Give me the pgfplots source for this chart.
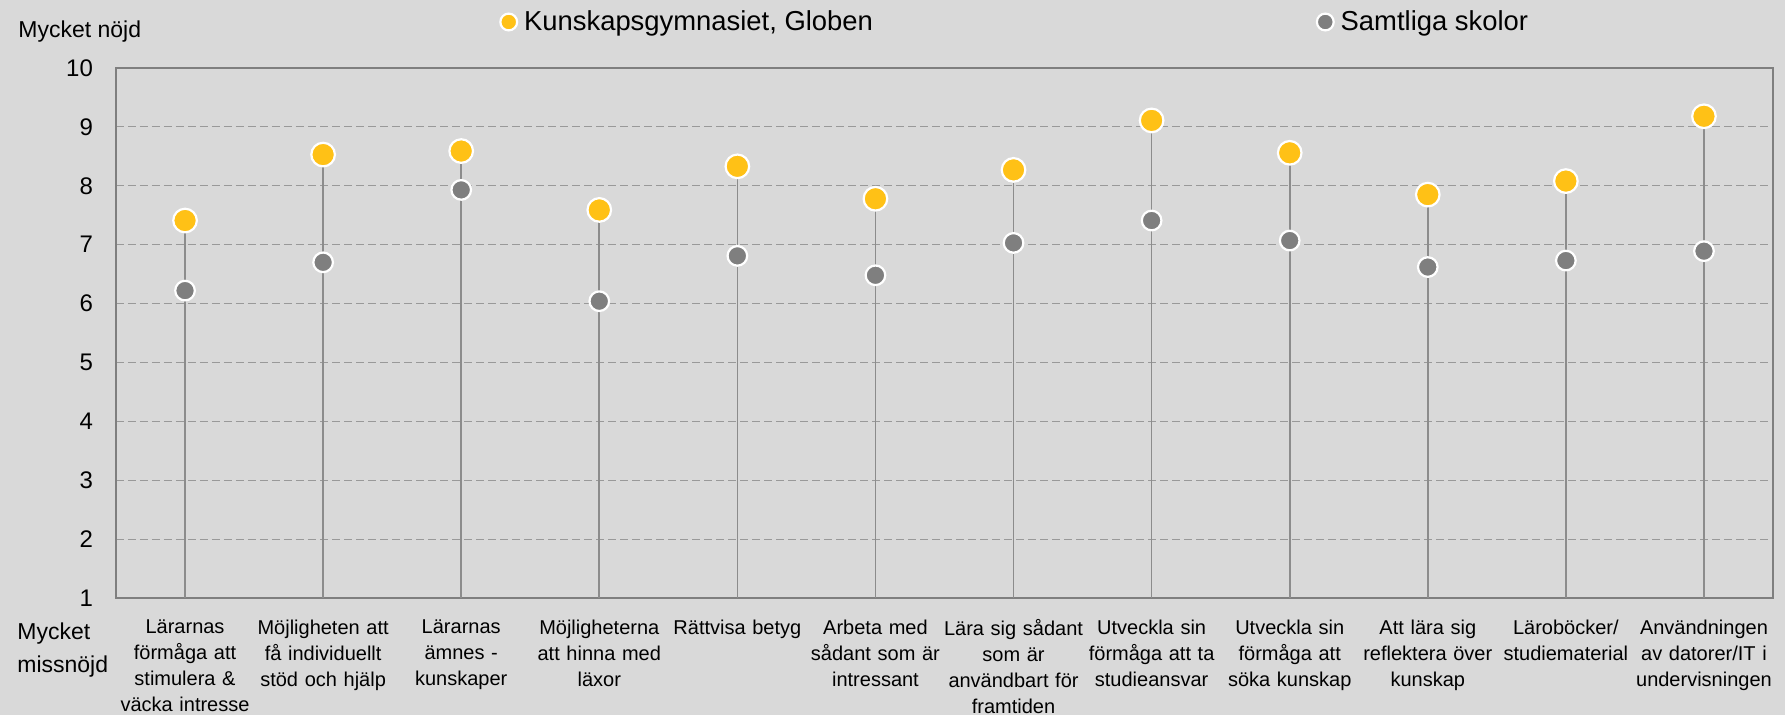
\documentclass[border=0pt]{standalone}
\usepackage{fontspec}
\setmainfont{Liberation Sans}
\usepackage{pgfplots}
\pgfplotsset{compat=1.18}
\usepackage{pgfplotstable}
\definecolor{bg}{HTML}{D9D9D9}
\definecolor{ylw}{HTML}{FFC116}
\definecolor{gmark}{HTML}{7F7F7F}
\definecolor{stem}{HTML}{8C8C8C}
\definecolor{frame}{HTML}{7F7F7F}
\definecolor{gridc}{HTML}{999999}

\pgfplotstableread{
x globen samtliga
0  7.41 6.22
1  8.53 6.70
2  8.59 7.93
3  7.59 6.04
4  8.33 6.81
5  7.78 6.48
6  8.27 7.03
7  9.11 7.41
8  8.56 7.07
9  7.85 6.62
10 8.08 6.73
11 9.18 6.89
}\datatable

\begin{document}
\begin{tikzpicture}
\fill[bg] (-58pt,-58.5pt) rectangle (834.5pt,299pt);
\begin{axis}[
  at={(0pt,0pt)}, anchor=south west,
  scale only axis,
  width=828.5pt, height=265pt,
  xmin=-0.5, xmax=11.5, ymin=1, ymax=10,
  axis line style={frame, line width=0.9pt},
  ytick={1,...,10},
  xtick={0,...,11},
  major tick length=0pt,
  ymajorgrids,
  grid style={gridc, dashed, dash pattern=on 4pt off 2pt, line width=0.6pt},
  /pgf/number format/assume math mode=true,
  yticklabel style={font=\fontsize{12}{14}\selectfont, xshift=-8pt},
  xticklabel style={font=\fontsize{10}{13}\selectfont, align=center, text width=80pt, inner sep=0pt, anchor=north, yshift=-10.6pt},
  xticklabels={
    {Lärarnas\\förmåga att\\stimulera \&\\väcka intresse},
    {Möjligheten att\\få individuellt\\stöd och hjälp},
    {Lärarnas\\ämnes -\\kunskaper},
    {Möjligheterna\\att hinna med\\läxor},
    {Rättvisa betyg},
    {Arbeta med\\sådant som är\\intressant},
    {Lära sig sådant\\som är\\användbart för\\framtiden},
    {Utveckla sin\\förmåga att ta\\studieansvar},
    {Utveckla sin\\förmåga att\\söka kunskap},
    {Att lära sig\\reflektera över\\kunskap},
    {Läroböcker/\\studiematerial},
    {Användningen\\av datorer/IT i\\undervisningen}
  },
  clip mode=individual,
  legend columns=2,
  legend style={draw=none, fill=none, inner sep=0pt,
    at={(rel axis cs:0.2317,1.0868)}, anchor=west,
    font=\fontsize{13.7}{15}\selectfont,
    nodes={inner sep=1.5pt},
    /tikz/every odd column/.append style={column sep=2pt},
    /tikz/every even column/.append style={column sep=220.5pt}},
  legend image code/.code={\draw[#1, mark size=4.2pt, line width=0.8pt] plot coordinates {(0pt,0pt)};},
]
\addplot[ycomb, stem, line width=0.8pt, forget plot] table[x=x, y=globen] {\datatable};
\addplot[only marks, mark=*, mark size=5.9pt, mark options={fill=ylw, draw=white, line width=1.1pt}] table[x=x, y=globen] {\datatable};
\addplot[only marks, mark=*, mark size=4.9pt, mark options={fill=gmark, draw=white, line width=1.1pt}] table[x=x, y=samtliga] {\datatable};
\legend{{Kunskapsgymnasiet, Globen}, {Samtliga skolor}}
\end{axis}
\node[anchor=west, inner sep=0pt, font=\fontsize{11.5}{13}\selectfont] at (-49pt,283pt) {Mycket nöjd};
\node[anchor=north west, align=left, inner sep=0pt, font=\fontsize{11.5}{16.5}\selectfont] at (-49.5pt,-12pt) {Mycket\\missnöjd};
\pgfresetboundingbox
\path[use as bounding box] (-58pt,-58.5pt) rectangle (834.5pt,299pt);
\end{tikzpicture}
\end{document}
